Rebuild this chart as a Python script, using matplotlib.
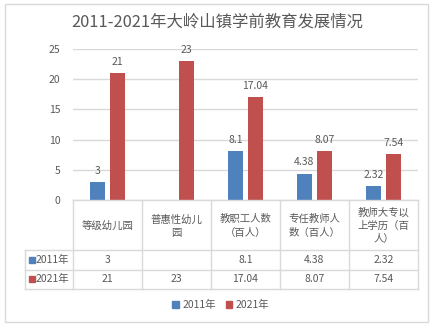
import matplotlib
matplotlib.use("Agg")
import matplotlib.pyplot as plt
import numpy as np

plt.rcParams['font.family'] = ['Noto Sans CJK SC', 'DejaVu Sans']

# chart data
categories = ["等级幼儿园", "普惠性幼儿\n园", "教职工人数\n（百人）",
              "专任教师人\n数（百人）", "教师大专以\n上学历（百\n人）"]
series_names = ["2011年", "2021年"]
vals_2011 = [3, None, 8.1, 4.38, 2.32]
vals_2021 = [21, 23, 17.04, 8.07, 7.54]
labels_2011 = ["3", "", "8.1", "4.38", "2.32"]
labels_2021 = ["21", "23", "17.04", "8.07", "7.54"]
y_ticks = [0, 5, 10, 15, 20, 25]

BLUE = "#4F81BD"
RED = "#C0504D"
GREY = "#D9D9D9"
TXT = "#595959"

W, H = 434, 327
fig = plt.figure(figsize=(W / 100, H / 100), dpi=100)


def box(x0, y0, x1, y1):
    # pixel box (top-left origin) -> figure fraction rect
    return [x0 / W, 1 - y1 / H, (x1 - x0) / W, (y1 - y0) / H]


# outer chart border
frame = fig.add_axes([0, 0, 1, 1])
frame.set_xlim(0, W)
frame.set_ylim(H, 0)
frame.axis("off")
frame.add_patch(plt.Rectangle((5, 4), 423, 318, fill=False, ec=GREY, lw=1))

fig.text(217 / W, 1 - 22 / H, "2011-2021年大岭山镇学前教育发展情况",
         ha="center", va="center", fontsize=11.8, color=TXT)

# bars
ax = fig.add_axes(box(73, 49, 418, 200))
x = np.arange(len(categories))
bw = 15 / 69
off = 10 / 69
v11 = np.array([np.nan if v is None else v for v in vals_2011])
v21 = np.array(vals_2021)
b1 = ax.bar(x - off, np.nan_to_num(v11), bw, color=BLUE, zorder=3)
b2 = ax.bar(x + off, v21, bw, color=RED, zorder=3)
for rects, labs in ((b1, labels_2011), (b2, labels_2021)):
    for r, lab in zip(rects, labs):
        if lab:
            ax.annotate(lab, (r.get_x() + r.get_width() / 2, r.get_height()),
                        xytext=(0, 4.5), textcoords="offset points",
                        ha="center", va="bottom", fontsize=7.5, color=TXT)

ax.set_xlim(-0.5, 4.5)
ax.set_ylim(0, 25)
ax.set_yticks(y_ticks)
ax.set_xticks([])
ax.tick_params(axis="y", length=0, labelsize=7.5, labelcolor=TXT, pad=9)
ax.grid(axis="y", color=GREY, lw=1, zorder=0)
for s in ax.spines.values():
    s.set_visible(False)

# data table under the bars
tab = fig.add_axes(box(25, 200, 418, 289))
tab.set_xlim(-0.5 - 48 / 69, 4.5)
tab.set_ylim(89, 0)
tab.axis("off")
row_y = [0, 50, 69.5, 89]
left = -0.5 - 48 / 69
for yy in row_y:
    x0 = -0.5 if yy == 0 else left
    tab.plot([x0, 4.5], [yy, yy], color=GREY, lw=1, clip_on=False)
for cx in np.arange(-0.5, 4.6, 1.0):
    tab.plot([cx, cx], [0, 89], color=GREY, lw=1, clip_on=False)
tab.plot([left, left], [50, 89], color=GREY, lw=1, clip_on=False)

for i, cat in enumerate(categories):
    tab.text(i, 26, cat, ha="center", va="center",
             fontsize=7.5, color=TXT, linespacing=1.4)
for row, (name, col, labs) in enumerate(zip(series_names, (BLUE, RED),
                                            (labels_2011, labels_2021))):
    yc = (row_y[row + 1] + row_y[row + 2]) / 2
    tab.plot(left + 0.1, yc, marker="s", ms=4.5, color=col, clip_on=False)
    tab.text(left + 0.16, yc, name, ha="left", va="center", fontsize=7.5, color=TXT)
    for i, lab in enumerate(labs):
        tab.text(i, yc, lab, ha="center", va="center", fontsize=7.5, color=TXT)

# legend
leg = fig.legend(handles=[plt.Rectangle((0, 0), 1, 1, color=BLUE),
                          plt.Rectangle((0, 0), 1, 1, color=RED)],
                 labels=series_names, loc="center", bbox_to_anchor=(221 / W, 1 - 305 / H),
                 ncol=2, frameon=False, fontsize=7.5, handlelength=0.6, handleheight=0.6,
                 handletextpad=0.4, columnspacing=0.9)
for t in leg.get_texts():
    t.set_color(TXT)

fig.savefig("out.png", dpi=100)
